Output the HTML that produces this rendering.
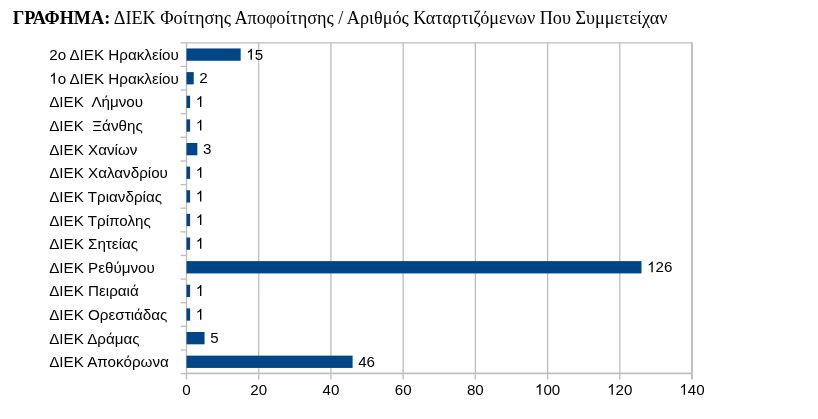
<!DOCTYPE html>
<html><head><meta charset="utf-8"><style>
html,body{margin:0;padding:0;background:#fff;}
body{width:818px;height:419px;overflow:hidden;position:relative;}
#w{position:absolute;left:0;top:0;width:818px;height:419px;background:#fff;filter:blur(0.3px);}
#title{position:absolute;left:12.8px;top:6.1px;font-family:"Liberation Serif",serif;font-size:18.2px;line-height:24px;white-space:pre;color:#000;}
#title b{font-weight:bold;}
svg{position:absolute;left:0;top:0;}
svg text{font-family:"Liberation Sans",sans-serif;font-size:15.15px;fill:#000;white-space:pre;}
svg path{fill:#000;}
</style></head><body><div id="w">
<div id="title"><b>ΓΡΑΦΗΜΑ:</b> ΔΙΕΚ Φοίτησης Αποφοίτησης / Αριθμός Καταρτιζόμενων Που Συμμετείχαν</div>
<svg width="818" height="419" viewBox="0 0 818 419">
<g stroke="#bdbdbd" stroke-width="1.3" fill="none">
<line x1="258.72" y1="42.8" x2="258.72" y2="379.6"/>
<line x1="330.94" y1="42.8" x2="330.94" y2="379.6"/>
<line x1="403.16" y1="42.8" x2="403.16" y2="379.6"/>
<line x1="475.38" y1="42.8" x2="475.38" y2="379.6"/>
<line x1="547.60" y1="42.8" x2="547.60" y2="379.6"/>
<line x1="619.82" y1="42.8" x2="619.82" y2="379.6"/>
<line x1="692" y1="42.20" x2="692" y2="379.6" stroke-width="2" stroke="#c0c0c0"/>
<line x1="186.5" y1="42.8" x2="692.04" y2="42.8"/>
<line x1="186.5" y1="373.45" x2="692.04" y2="373.45" stroke-width="1.7" stroke="#c0c0c0"/>
<line x1="186.5" y1="42.8" x2="186.5" y2="379.6"/>
<line x1="180.5" y1="42.80" x2="186.5" y2="42.80"/>
<line x1="180.5" y1="66.43" x2="186.5" y2="66.43"/>
<line x1="180.5" y1="90.06" x2="186.5" y2="90.06"/>
<line x1="180.5" y1="113.69" x2="186.5" y2="113.69"/>
<line x1="180.5" y1="137.31" x2="186.5" y2="137.31"/>
<line x1="180.5" y1="160.94" x2="186.5" y2="160.94"/>
<line x1="180.5" y1="184.57" x2="186.5" y2="184.57"/>
<line x1="180.5" y1="208.20" x2="186.5" y2="208.20"/>
<line x1="180.5" y1="231.83" x2="186.5" y2="231.83"/>
<line x1="180.5" y1="255.46" x2="186.5" y2="255.46"/>
<line x1="180.5" y1="279.09" x2="186.5" y2="279.09"/>
<line x1="180.5" y1="302.71" x2="186.5" y2="302.71"/>
<line x1="180.5" y1="326.34" x2="186.5" y2="326.34"/>
<line x1="180.5" y1="349.97" x2="186.5" y2="349.97"/>
<line x1="180.5" y1="373.60" x2="186.5" y2="373.60"/>
</g>
<g fill="#004586">
<rect x="186.5" y="48.46" width="54.17" height="12.3"/>
<rect x="186.5" y="72.09" width="7.22" height="12.3"/>
<rect x="186.5" y="95.72" width="3.61" height="12.3"/>
<rect x="186.5" y="119.35" width="3.61" height="12.3"/>
<rect x="186.5" y="142.98" width="10.83" height="12.3"/>
<rect x="186.5" y="166.61" width="3.61" height="12.3"/>
<rect x="186.5" y="190.24" width="3.61" height="12.3"/>
<rect x="186.5" y="213.86" width="3.61" height="12.3"/>
<rect x="186.5" y="237.49" width="3.61" height="12.3"/>
<rect x="186.5" y="261.12" width="454.99" height="12.3"/>
<rect x="186.5" y="284.75" width="3.61" height="12.3"/>
<rect x="186.5" y="308.38" width="3.61" height="12.3"/>
<rect x="186.5" y="332.01" width="18.05" height="12.3"/>
<rect x="186.5" y="355.64" width="166.11" height="12.3"/>
</g>
<text x="49.2" y="60.11" xml:space="preserve" style="font-size:15.2px">2ο ΔΙΕΚ Ηρακλείου</text>
<path d="M763 0H583V-1147Q518 -1085 412.5 -1023Q307 -961 223 -930V-1104Q374 -1175 487 -1276Q600 -1377 647 -1472H763Z" transform="translate(246.27,59.71) scale(0.007397)"/>
<text x="254.69" y="59.71" style="font-size:15.15px">5</text>
<path d="M763 0H583V-1147Q518 -1085 412.5 -1023Q307 -961 223 -930V-1104Q374 -1175 487 -1276Q600 -1377 647 -1472H763Z" transform="translate(49.20,83.74) scale(0.007422)"/>
<text x="57.65" y="83.74" xml:space="preserve" style="font-size:15.2px">ο ΔΙΕΚ Ηρακλείου</text>
<text x="199.32" y="83.34" style="font-size:15.15px">2</text>
<text x="49.2" y="107.37" xml:space="preserve" style="font-size:15.2px">ΔΙΕΚ  Λήμνου</text>
<path d="M763 0H583V-1147Q518 -1085 412.5 -1023Q307 -961 223 -930V-1104Q374 -1175 487 -1276Q600 -1377 647 -1472H763Z" transform="translate(195.71,106.97) scale(0.007397)"/>
<text x="49.2" y="131.00" xml:space="preserve" style="font-size:15.2px">ΔΙΕΚ  Ξάνθης</text>
<path d="M763 0H583V-1147Q518 -1085 412.5 -1023Q307 -961 223 -930V-1104Q374 -1175 487 -1276Q600 -1377 647 -1472H763Z" transform="translate(195.71,130.60) scale(0.007397)"/>
<text x="49.2" y="154.63" xml:space="preserve" style="font-size:15.2px">ΔΙΕΚ Χανίων</text>
<text x="202.93" y="154.23" style="font-size:15.15px">3</text>
<text x="49.2" y="178.26" xml:space="preserve" style="font-size:15.2px">ΔΙΕΚ Χαλανδρίου</text>
<path d="M763 0H583V-1147Q518 -1085 412.5 -1023Q307 -961 223 -930V-1104Q374 -1175 487 -1276Q600 -1377 647 -1472H763Z" transform="translate(195.71,177.86) scale(0.007397)"/>
<text x="49.2" y="201.89" xml:space="preserve" style="font-size:15.2px">ΔΙΕΚ Τριανδρίας</text>
<path d="M763 0H583V-1147Q518 -1085 412.5 -1023Q307 -961 223 -930V-1104Q374 -1175 487 -1276Q600 -1377 647 -1472H763Z" transform="translate(195.71,201.49) scale(0.007397)"/>
<text x="49.2" y="225.51" xml:space="preserve" style="font-size:15.2px">ΔΙΕΚ Τρίπολης</text>
<path d="M763 0H583V-1147Q518 -1085 412.5 -1023Q307 -961 223 -930V-1104Q374 -1175 487 -1276Q600 -1377 647 -1472H763Z" transform="translate(195.71,225.11) scale(0.007397)"/>
<text x="49.2" y="249.14" xml:space="preserve" style="font-size:15.2px">ΔΙΕΚ Σητείας</text>
<path d="M763 0H583V-1147Q518 -1085 412.5 -1023Q307 -961 223 -930V-1104Q374 -1175 487 -1276Q600 -1377 647 -1472H763Z" transform="translate(195.71,248.74) scale(0.007397)"/>
<text x="49.2" y="272.77" xml:space="preserve" style="font-size:15.2px">ΔΙΕΚ Ρεθύμνου</text>
<path d="M763 0H583V-1147Q518 -1085 412.5 -1023Q307 -961 223 -930V-1104Q374 -1175 487 -1276Q600 -1377 647 -1472H763Z" transform="translate(647.09,272.37) scale(0.007397)"/>
<text x="655.51" y="272.37" style="font-size:15.15px">26</text>
<text x="49.2" y="296.40" xml:space="preserve" style="font-size:15.2px">ΔΙΕΚ Πειραιά</text>
<path d="M763 0H583V-1147Q518 -1085 412.5 -1023Q307 -961 223 -930V-1104Q374 -1175 487 -1276Q600 -1377 647 -1472H763Z" transform="translate(195.71,296.00) scale(0.007397)"/>
<text x="49.2" y="320.03" xml:space="preserve" style="font-size:15.2px">ΔΙΕΚ Ορεστιάδας</text>
<path d="M763 0H583V-1147Q518 -1085 412.5 -1023Q307 -961 223 -930V-1104Q374 -1175 487 -1276Q600 -1377 647 -1472H763Z" transform="translate(195.71,319.63) scale(0.007397)"/>
<text x="49.2" y="343.66" xml:space="preserve" style="font-size:15.2px">ΔΙΕΚ Δράμας</text>
<text x="210.16" y="343.26" style="font-size:15.15px">5</text>
<text x="49.2" y="367.29" xml:space="preserve" style="font-size:15.2px">ΔΙΕΚ Αποκόρωνα</text>
<text x="358.21" y="366.89" style="font-size:15.15px">46</text>
<text x="182.29" y="394.80" style="font-size:15.15px">0</text>
<text x="250.29" y="394.80" style="font-size:15.15px">20</text>
<text x="322.51" y="394.80" style="font-size:15.15px">40</text>
<text x="394.73" y="394.80" style="font-size:15.15px">60</text>
<text x="466.95" y="394.80" style="font-size:15.15px">80</text>
<path d="M763 0H583V-1147Q518 -1085 412.5 -1023Q307 -961 223 -930V-1104Q374 -1175 487 -1276Q600 -1377 647 -1472H763Z" transform="translate(534.96,394.80) scale(0.007397)"/>
<text x="543.39" y="394.80" style="font-size:15.15px">00</text>
<path d="M763 0H583V-1147Q518 -1085 412.5 -1023Q307 -961 223 -930V-1104Q374 -1175 487 -1276Q600 -1377 647 -1472H763Z" transform="translate(607.18,394.80) scale(0.007397)"/>
<text x="615.61" y="394.80" style="font-size:15.15px">20</text>
<path d="M763 0H583V-1147Q518 -1085 412.5 -1023Q307 -961 223 -930V-1104Q374 -1175 487 -1276Q600 -1377 647 -1472H763Z" transform="translate(679.40,394.80) scale(0.007397)"/>
<text x="687.83" y="394.80" style="font-size:15.15px">40</text>
</svg></div></body></html>
